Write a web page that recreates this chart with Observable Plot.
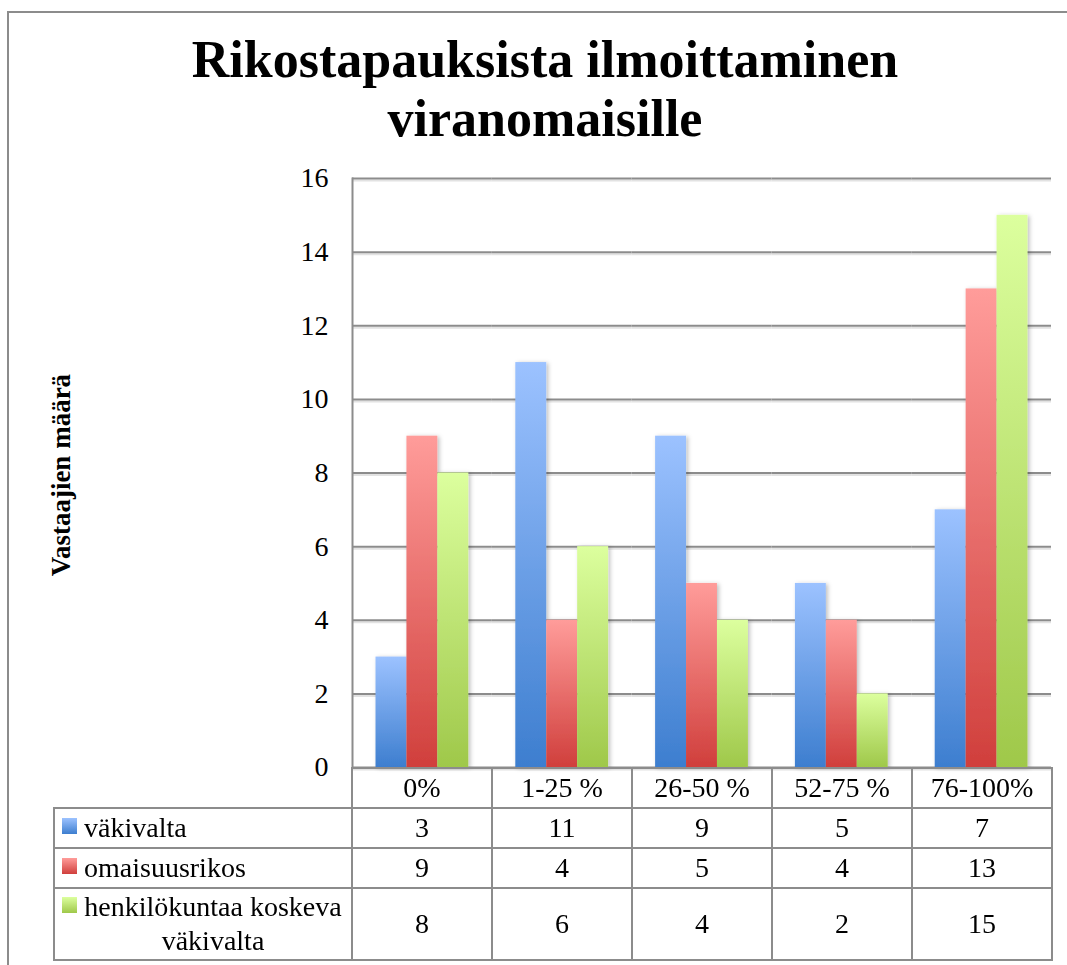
<!DOCTYPE html>
<html>
<head>
<meta charset="utf-8">
<script src="https://cdn.jsdelivr.net/npm/d3@7"></script>
<script src="https://cdn.jsdelivr.net/npm/@observablehq/plot@0.6"></script>
<style>
  html, body { margin: 0; padding: 0; background: #fff; }
  #wrap { position: relative; width: 1067px; height: 965px; overflow: hidden; font-family: "Liberation Serif", "DejaVu Serif", serif; color: #000; }
  #border { position: absolute; left: 7px; top: 11px; width: 1100px; height: 1000px; border-left: 2px solid #8c8c8c; border-top: 2px solid #8c8c8c; }
  #title { position: absolute; left: 0; width: 1090px; top: 30px; text-align: center; font-weight: bold; font-size: 52px; line-height: 59px; }
  #ylabel { position: absolute; left: 61px; top: 475px; transform: translate(-50%, -50%) rotate(-90deg); font-weight: bold; font-size: 27px; white-space: nowrap; }
  #chart { position: absolute; left: 0; top: 0; }
  #tbl { position: absolute; left: 53px; top: 767px; border-collapse: collapse; font-size: 28px; }
  #tbl td { border: 2px solid #8c8c8c; text-align: center; padding: 0; vertical-align: middle; }
  #tbl td.blank { border-top: none; border-left: none; }
  #tbl td.lab { text-align: left; padding-left: 7px; white-space: nowrap; }
  .key { display: inline-block; width: 15px; height: 16px; vertical-align: top; margin-top: 7px; margin-right: 7px; }
  .ltxt { display: inline-block; white-space: normal; max-width: 265px; text-align: center; vertical-align: top; line-height: 34px; }
</style>
</head>
<body>
<svg width="0" height="0" style="position:absolute">
  <defs>
    <linearGradient id="gBlue" x1="0" y1="0" x2="0" y2="1">
      <stop offset="0" stop-color="#9cc2ff"/>
      <stop offset="1" stop-color="#3d7ecf"/>
    </linearGradient>
    <linearGradient id="gRed" x1="0" y1="0" x2="0" y2="1">
      <stop offset="0" stop-color="#ff9c9a"/>
      <stop offset="1" stop-color="#d03f3c"/>
    </linearGradient>
    <linearGradient id="gGreen" x1="0" y1="0" x2="0" y2="1">
      <stop offset="0" stop-color="#dcff9e"/>
      <stop offset="1" stop-color="#9fc84a"/>
    </linearGradient>
    <filter id="shadow" x="-30%" y="-10%" width="160%" height="120%">
      <feDropShadow dx="2" dy="1" stdDeviation="2" flood-color="#000" flood-opacity="0.25"/>
    </filter>
  </defs>
</svg>
<div id="wrap">
  <div id="border"></div>
  <div id="ylabel"></div>
  <div id="chart"></div>
  <div id="title"></div>
  <table id="tbl"></table>
</div>
<script>
const titleLines = ["Rikostapauksista ilmoittaminen", "viranomaisille"];
const yLabel = "Vastaajien määrä";
const categories = ["0%", "1-25 %", "26-50 %", "52-75 %", "76-100%"];
const seriesNames = ["väkivalta", "omaisuusrikos", "henkilökuntaa koskeva väkivalta"];
const vakivalta = [3, 11, 9, 5, 7];
const omaisuusrikos = [9, 4, 5, 4, 13];
const henkilokunta = [8, 6, 4, 2, 15];
const yTicks = [0, 2, 4, 6, 8, 10, 12, 14, 16];
const seriesFills = ["url(#gBlue)", "url(#gRed)", "url(#gGreen)"];
const keyFills = ["linear-gradient(#9cc2ff,#3d7ecf)", "linear-gradient(#ff9c9a,#d03f3c)", "linear-gradient(#dcff9e,#9fc84a)"];

const seriesValues = [vakivalta, omaisuusrikos, henkilokunta];
const data = [];
categories.forEach((c, i) => seriesNames.forEach((s, j) => data.push({category: c, series: s, value: seriesValues[j][i]})));

document.getElementById("title").innerHTML = titleLines.join("<br>");
document.getElementById("ylabel").textContent = yLabel;

const chart = Plot.plot({
  width: 1067,
  height: 770,
  marginTop: 178,
  marginBottom: 3,
  marginLeft: 352,
  marginRight: 16,
  style: {fontFamily: "Liberation Serif, serif", fontSize: "28px", color: "#000", background: "transparent", overflow: "visible"},
  fx: {domain: categories, padding: 0, round: false, axis: null, label: null},
  x: {domain: seriesNames, paddingInner: 0, paddingOuter: 0.76, round: false, axis: null},
  y: {domain: [0, 16], axis: null},
  color: {domain: seriesNames, range: seriesFills},
  marks: [
    Plot.ruleY(yTicks, {dy: 2, stroke: "#e2e2e2", strokeWidth: 2}),
    Plot.ruleY(yTicks, {stroke: "#8c8c8c", strokeWidth: 2}),
    Plot.barY(data, {fx: "category", x: "series", y: "value", fill: "series"}),
    Plot.axisY({ticks: yTicks, tickSize: 0, tickPadding: 24, fontSize: 28, label: null, fx: () => categories[0]}),
    Plot.frame({anchor: "left", stroke: "#8c8c8c", strokeWidth: 2, fx: () => categories[0]})
  ]
});
chart.querySelectorAll('g[aria-label="bar"]').forEach(g => g.setAttribute("filter", "url(#shadow)"));
document.getElementById("chart").appendChild(chart);

// data table
const tbl = document.getElementById("tbl");
const head = document.createElement("tr");
head.style.height = "40px";
const blank = document.createElement("td");
blank.className = "blank";
blank.style.width = "297px";
head.appendChild(blank);
categories.forEach(c => {
  const td = document.createElement("td");
  td.style.width = "138px";
  td.textContent = c;
  head.appendChild(td);
});
tbl.appendChild(head);
const rowHeights = ["40px", "40px", "72px"];
const labelSpans = [];
seriesNames.forEach((s, j) => {
  const tr = document.createElement("tr");
  tr.style.height = rowHeights[j];
  const lab = document.createElement("td");
  lab.className = "lab";
  const key = document.createElement("span");
  key.className = "key";
  key.style.background = keyFills[j];
  const txt = document.createElement("span");
  txt.className = "ltxt";
  txt.textContent = s;
  labelSpans.push(txt);
  lab.appendChild(key);
  lab.appendChild(txt);
  tr.appendChild(lab);
  seriesValues[j].forEach(v => {
    const td = document.createElement("td");
    td.textContent = v;
    tr.appendChild(td);
  });
  tbl.appendChild(tr);
});
// shrink wrapped legend labels to their widest line
labelSpans.forEach(span => {
  const range = document.createRange();
  range.selectNodeContents(span);
  const rects = Array.from(range.getClientRects());
  if (rects.length > 1) {
    const w = Math.max(...rects.map(r => r.width));
    span.style.width = Math.ceil(w) + "px";
  }
});
</script>
</body>
</html>
